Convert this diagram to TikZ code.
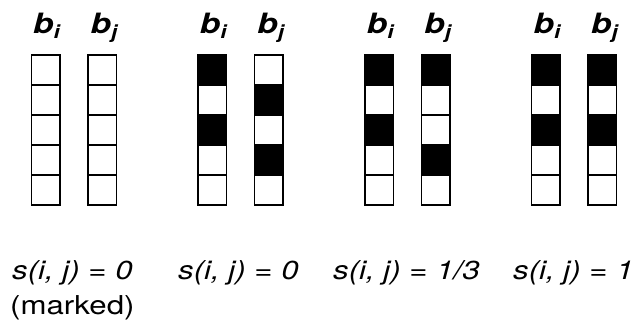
\documentclass[tikz,border=0pt]{standalone}
\usepackage{fontspec}
\setmainfont{TeX Gyre Heros}
\begin{document}
\begin{tikzpicture}[x=1pt,y=-1pt,
  cell/.style={draw=black, line width=1.5pt, fill=white, minimum width=28.5pt, minimum height=30pt, inner sep=0pt, outer sep=0pt},
  blk/.style={cell, fill=black},
  blabel/.style={anchor=base, inner sep=0pt},
  slabel/.style={anchor=base west, inner sep=0pt, font=\fontsize{26}{30}\selectfont\itshape}]
\useasboundingbox (0,0) rectangle (634,325);
\newcommand{\blab}[1]{\scalebox{1.2}[1]{\fontsize{28}{30}\selectfont\bfseries\itshape b\raisebox{-5pt}{\fontsize{18.5}{20}\selectfont #1}}}
% group, column, pattern of black cells
\foreach \g/\pi/\pj in {1/{}/{}, 2/{1,3}/{2,4}, 3/{1,3}/{1,4}, 4/{1,3}/{1,3}} {
  \pgfmathsetmacro{\xi}{45.5+166.8*(\g-1)}
  \pgfmathsetmacro{\xj}{\xi+56.5}
  \foreach \k in {1,...,5} {
    \node[cell] (g\g i\k) at (\xi,{40+30*\k}) {};
    \node[cell] (g\g j\k) at (\xj,{40+30*\k}) {};
  }
  \foreach \k in \pi { \node[blk] (g\g bi\k) at (\xi,{40+30*\k}) {}; }
  \foreach \k in \pj { \node[blk] (g\g bj\k) at (\xj,{40+30*\k}) {}; }
  \node[blabel] (lbi\g) at (\xi+1,33) {\blab{i}};
  \node[blabel] (lbj\g) at (\xj+2,33) {\blab{j}};
}
\node[slabel] (s1) at (12,279) {\scalebox{1.2}[1]{s(i, j) = 0}};
\node[slabel] (s2) at (178,279) {\scalebox{1.2}[1]{s(i, j) = 0}};
\node[slabel] (s3) at (333,279) {\scalebox{1.2}[1]{s(i, j) = 1/3}};
\node[slabel] (s4) at (513,279) {\scalebox{1.2}[1]{s(i, j) = 1}};
\node[anchor=base west, inner sep=0pt, font=\fontsize{26}{30}\selectfont] (mk) at (10,314) {\scalebox{1.2}[1]{(marked)}};
\end{tikzpicture}
\end{document}
